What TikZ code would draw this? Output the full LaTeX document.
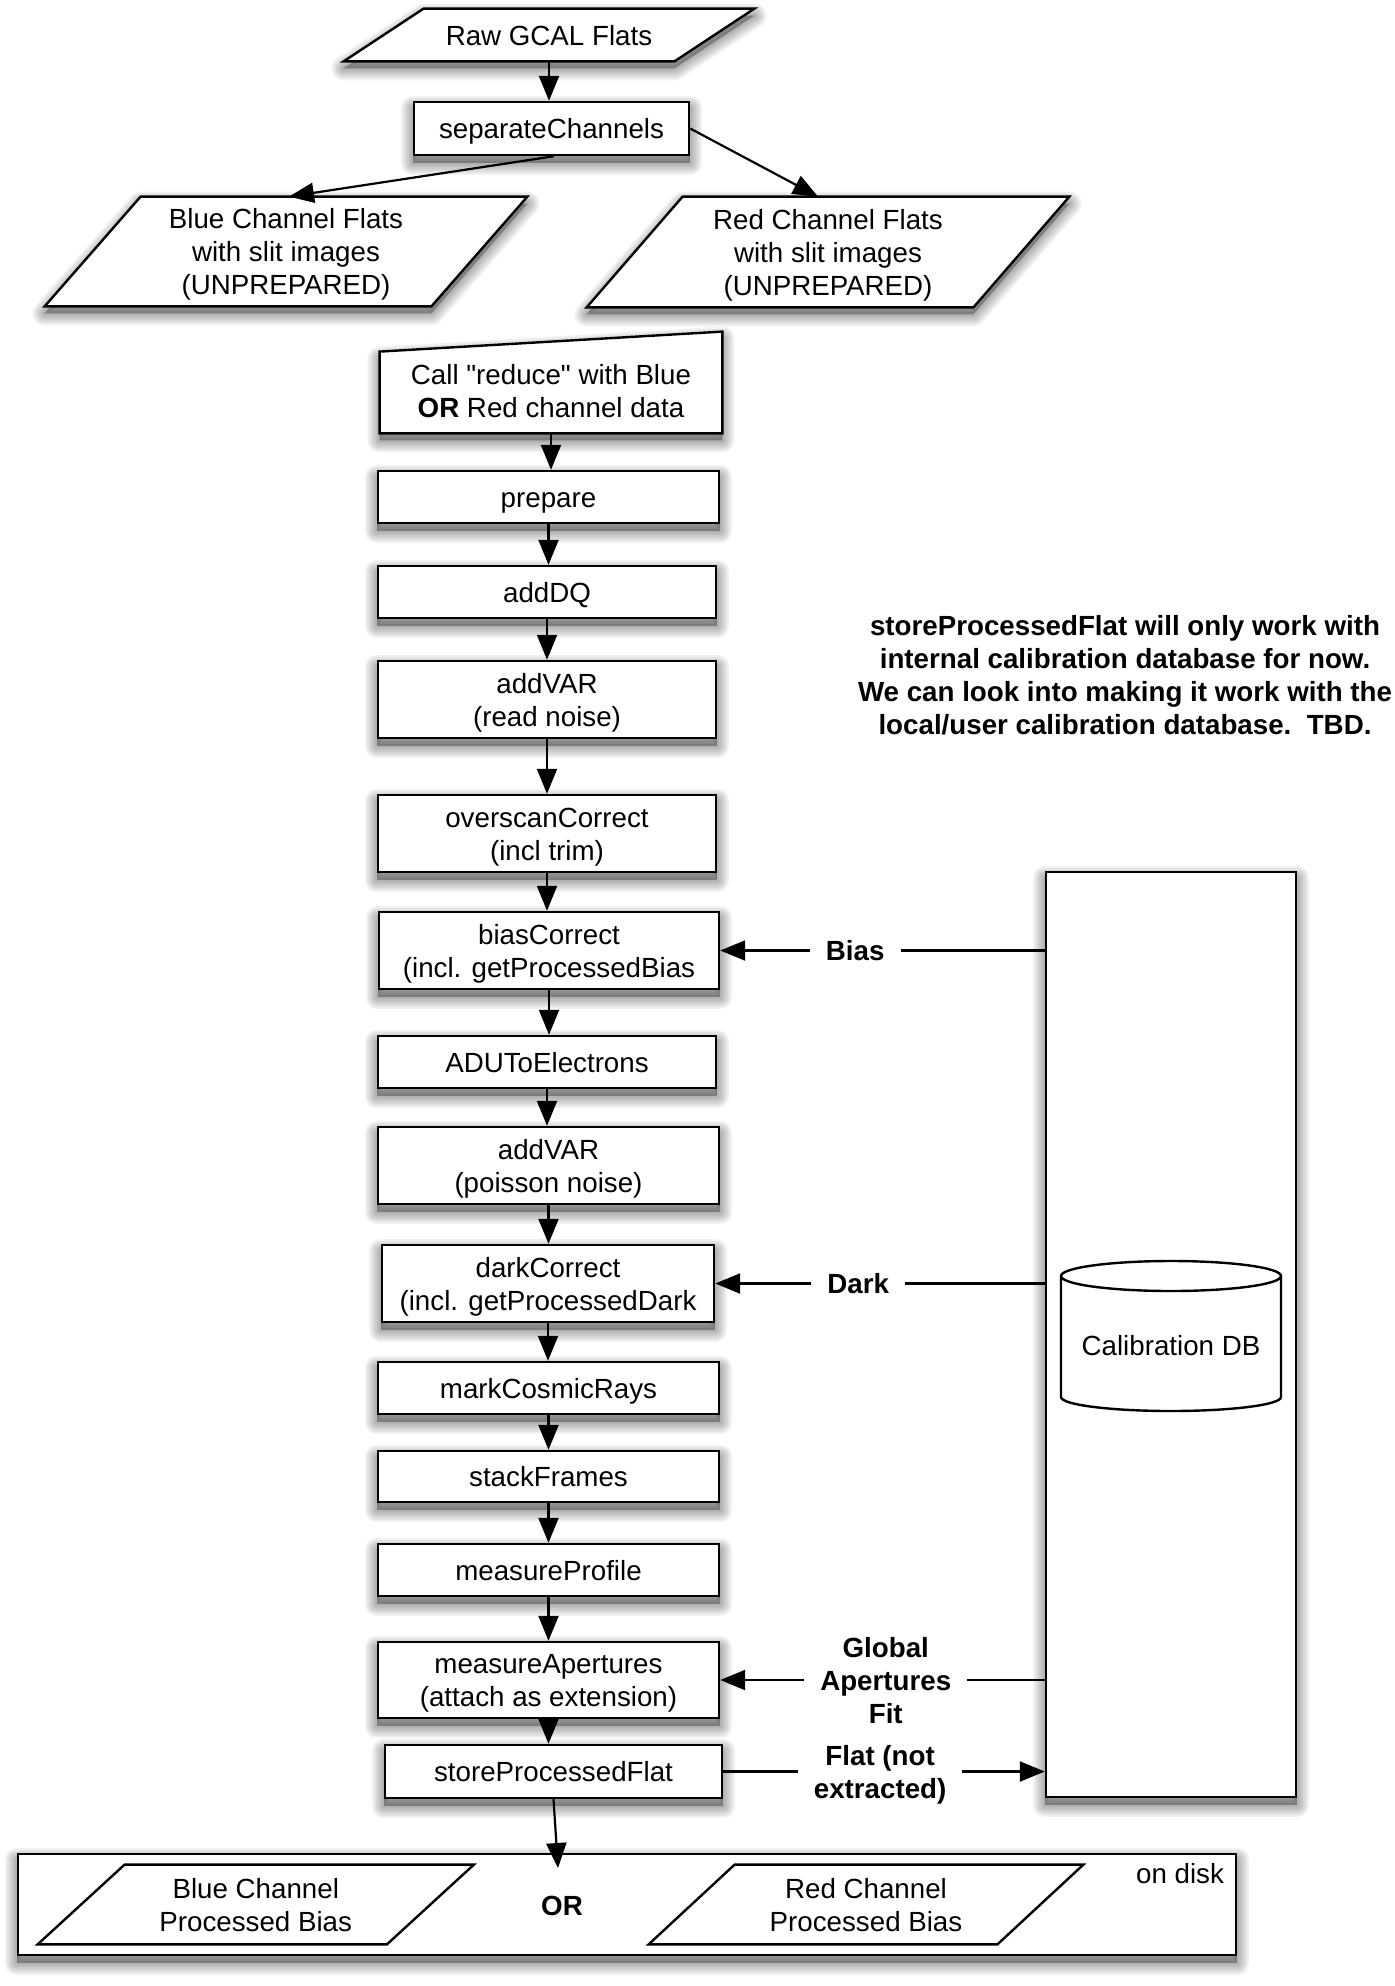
\documentclass[tikz,border=0pt]{standalone}
\usepackage{fontspec}
\setmainfont{Liberation Sans}
\usetikzlibrary{arrows.meta,calc}
\pgfdeclarelayer{page}
\pgfdeclarelayer{shadow}
\pgfdeclarelayer{bg}
\pgfsetlayers{page,shadow,bg,main}
\tikzset{
  txt/.style={font=\fontsize{13.86pt}{16.5pt}\selectfont, align=center, inner sep=0pt},
  procbox/.style={txt, draw, line width=1.2pt, fill=white},
  ghost/.style={txt},
  plainline/.style={draw, line width=1.2pt, fill=white, line join=miter},
  arr/.style={line width=1.1pt, -{Triangle[length=12.5pt,width=10pt]}},
  lbl/.style={txt, font=\fontsize{13.86pt}{16.5pt}\selectfont\bfseries, fill=white, inner xsep=8pt, inner ysep=0pt},
}
\newcommand\dq{\XeTeXglyph\XeTeXcharglyph"22\relax}
\newcommand\tS{\rule{0pt}{13.5pt}}
\newcommand\bS{\rule[-3.5pt]{0pt}{3.5pt}}
\newcommand\T[1]{\tS#1\bS}
\newcommand\paraPath[2]{($(#1.north west)+(#2,0)$) -- ($(#1.north east)+(#2,0)$) -- ($(#1.south east)-(#2,0)$) -- ($(#1.south west)-(#2,0)$) -- cycle}
\newcommand\callPath{(call.south west) -- ($(call.north west)+(0,20)$) -- (call.north east) -- (call.south east) -- cycle}
\newcommand\boxPath[1]{(#1.north west) rectangle (#1.south east)}
\newcommand\fshadow[1]{%
  \begin{pgfonlayer}{shadow}
  \begin{scope}[transform canvas={yshift=-3.5pt}]
  \foreach \w in {12,10,8,6,4,2} {\path[draw=black, fill=black, opacity=0.055, line width=\w pt, line join=round] #1;}
  \end{scope}
  \end{pgfonlayer}}
\begin{document}
\begin{tikzpicture}[x=0.5pt,y=-0.5pt]
\begin{pgfonlayer}{page}
\fill[white] (0,0) rectangle (1395,1986);
\end{pgfonlayer}
\useasboundingbox (0,0) rectangle (1395,1986);

% top part
\node[ghost, minimum width=165pt, minimum height=26pt] (raw) at (549,35) {\T{Raw GCAL Flats}};
\node[procbox, minimum width=137.5pt, minimum height=26.5pt] (sep) at (551.5,128.5) {\T{separateChannels}};
\node[ghost, minimum width=193pt, minimum height=54.5pt] (blue) at (286,251.5) {\T{Blue Channel Flats\\with slit images\\(UNPREPARED)}};
\node[ghost, minimum width=193pt, minimum height=55pt] (red) at (828,252) {\T{Red Channel Flats\\with slit images\\(UNPREPARED)}};

% call reduce
\node[ghost, minimum width=171pt, minimum height=50.5pt] (call) at (551,382.5) {};
\node[ghost] (calltext) at (551,391) {\T{Call \dq reduce\dq{} with Blue\\\textbf{OR} Red channel data}};

\fshadow{\paraPath{raw}{40}}
\fshadow{\paraPath{blue}{48}}
\fshadow{\paraPath{red}{48}}
\fshadow{\callPath}
\begin{pgfonlayer}{bg}
\path[plainline] \paraPath{raw}{40};
\path[plainline] \paraPath{blue}{48};
\path[plainline] \paraPath{red}{48};
\path[plainline] \callPath;
\end{pgfonlayer}

% process boxes
\node[procbox, minimum width=170.5pt, minimum height=26pt] (prepare) at (548.5,497) {\T{prepare}};
\node[procbox, minimum width=169pt, minimum height=26pt] (adddq) at (547,592) {\T{addDQ}};
\node[procbox, minimum width=169pt, minimum height=38.5pt] (addvara) at (547,699.5) {\T{addVAR\\(read noise)}};
\node[procbox, minimum width=169pt, minimum height=38.5pt] (overscan) at (547,833.5) {\T{overscanCorrect\\(incl trim)}};
\node[procbox, minimum width=170pt, minimum height=38.5pt] (bias) at (549,950.5) {\T{biasCorrect\\(incl. getProcessedBias}};
\node[procbox, minimum width=169pt, minimum height=26pt] (adu) at (547,1062) {\T{ADUToElectrons}};
\node[procbox, minimum width=170.5pt, minimum height=38.5pt] (addvarb) at (548.5,1165.5) {\T{addVAR\\(poisson noise)}};
\node[procbox, minimum width=166pt, minimum height=38.5pt] (dark) at (548,1283.5) {\T{darkCorrect\\(incl. getProcessedDark}};
\node[procbox, minimum width=170.5pt, minimum height=26pt] (cosmic) at (548.5,1388) {\T{markCosmicRays}};
\node[procbox, minimum width=170.5pt, minimum height=25.5pt] (stack) at (548.5,1476.5) {\T{stackFrames}};
\node[procbox, minimum width=170.5pt, minimum height=26pt] (profile) at (548.5,1570) {\T{measureProfile}};
\node[procbox, minimum width=170.5pt, minimum height=38pt] (apert) at (548.5,1680) {\T{measureApertures\\(attach as extension)}};
\node[procbox, minimum width=168.5pt, minimum height=26.5pt] (store) at (553.5,1771.5) {\T{storeProcessedFlat}};

% calibration and disk containers
\begin{pgfonlayer}{bg}
\node[procbox, minimum width=125pt, minimum height=462.5pt] (calib) at (1171,1334.5) {};
\node[procbox, minimum width=609pt, minimum height=50.5pt] (disk) at (627,1904.5) {};
\path[draw, line width=1.2pt, fill=white] (1061,1276) -- (1061,1397)
  arc[start angle=180, end angle=360, x radius=55pt, y radius=7pt] -- (1281,1276)
  arc[start angle=0, end angle=180, x radius=55pt, y radius=7.5pt] -- cycle;
\draw[line width=1.2pt] (1061,1276) arc[start angle=180, end angle=360, x radius=55pt, y radius=7.5pt];
\end{pgfonlayer}
\node[ghost] (caldb) at (1171,1345) {\T{Calibration DB}};

\foreach \n in {sep,prepare,adddq,addvara,overscan,bias,adu,addvarb,dark,cosmic,stack,profile,apert,store,calib,disk}
  {\fshadow{\boxPath{\n}}}

\node[ghost, minimum width=174.25pt, minimum height=39.5pt] (bluep) at (255.75,1904.5) {\T{Blue Channel\\Processed Bias}};
\node[ghost, minimum width=174pt, minimum height=39.5pt] (redp) at (866,1904.5) {\T{Red Channel\\Processed Bias}};
\begin{pgfonlayer}{bg}
\path[plainline] \paraPath{bluep}{43.5};
\path[plainline] \paraPath{redp}{43};
\end{pgfonlayer}
\node[ghost] (ondisk) at (1180,1873) {\T{on disk}};
\node[ghost, font=\fontsize{13.86pt}{16.5pt}\selectfont\bfseries] (orlbl) at (562,1905) {\T{OR}};
\coordinate (diskin) at (558,1868);

% note
\node[ghost, font=\fontsize{13.86pt}{16.5pt}\selectfont\bfseries] (note) at (1125,674.5)
  {\T{storeProcessedFlat will only work with\\internal calibration database for now.\\We can look into making it work with the\\local/user calibration database.\ \ TBD.}};

% connectors
\draw[arr] (raw.south) -- (raw.south |- sep.north);
\draw[arr] ($(sep.south)+(2.5,0)$) -- ($(blue.north)+(3,0)$);
\draw[arr] (sep.east) -- ($(red.north)+(-10,0)$);
\draw[arr] (call.south) -- (call.south |- prepare.north);
\foreach \a/\b in {prepare/adddq, adddq/addvara, addvara/overscan, overscan/bias, bias/adu, adu/addvarb, addvarb/dark, dark/cosmic, cosmic/stack, stack/profile, profile/apert, apert/store}
  \draw[arr] (\a.south) -- (\a.south |- \b.north);
\draw[arr] (store.south) -- (diskin);

\draw[arr] (bias.east -| calib.west) -- node[lbl, pos=0.584] {\T{Bias}} (bias.east);
\draw[arr] (dark.east -| calib.west) -- node[lbl, pos=0.566] {\T{Dark}} (dark.east);
\draw[arr] (apert.east -| calib.west) -- node[lbl, pos=0.49] {\T{Global\\Apertures\\Fit}} (apert.east);
\draw[arr] (store.east) -- node[lbl, pos=0.488] {\T{Flat (not\\extracted)}} (store.east -| calib.west);
\end{tikzpicture}
\end{document}
